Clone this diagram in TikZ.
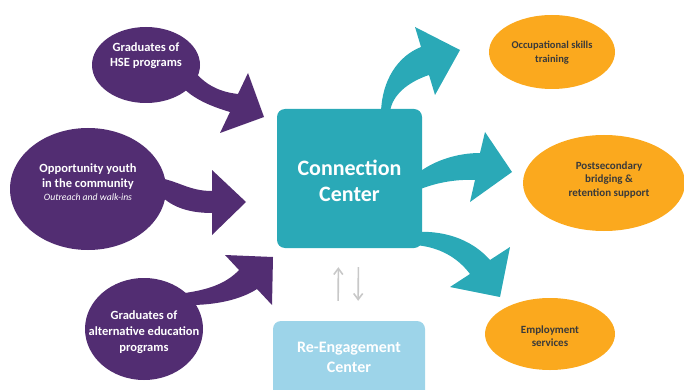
\documentclass[tikz,border=0pt]{standalone}
\usepackage{fontspec}
\setmainfont{Carlito}
\usepackage{xcolor}
\usetikzlibrary{positioning, shapes.geometric, arrows.meta, calc}

\definecolor{ccpurple}{HTML}{522D72}
\definecolor{ccteal}{HTML}{2AA9B7}
\definecolor{cclight}{HTML}{9DD4E9}
\definecolor{ccorange}{HTML}{FBA91E}
\definecolor{ccdark}{HTML}{3A3A3A}
\definecolor{ccgray}{HTML}{C8C8C8}

\begin{document}
\begin{tikzpicture}[x=1pt, y=-1pt,
    youth/.style={ellipse, fill=ccpurple, inner sep=0pt},
    youthtxt/.style={text=white, align=center, font=\bfseries\fontsize{12.5}{15}\selectfont},
    service/.style={ellipse, fill=ccorange, inner sep=0pt},
    servicetxt/.style={text=ccdark, align=center, font=\bfseries\fontsize{10.5}{14}\selectfont},
    hubbox/.style={rounded corners=8pt, inner sep=0pt},
    inarrow/.style={fill=ccpurple},
    outarrow/.style={fill=ccteal},
    updown/.style={ccgray, line width=1.6pt, -{Straight Barb[length=6pt, width=9pt]}}]
    \useasboundingbox (0,0) rectangle (684,390);

    % youth sources
    \node[youth, minimum width=108pt, minimum height=76pt] (hse) at (146,65) {};
    \node[youth, minimum width=156pt, minimum height=122pt] (opp) at (88,189) {};
    \node[youth, minimum width=118pt, minimum height=102pt] (alt) at (144,329) {};
    \node[youthtxt] at ($(hse)+(0,-9)$) {Graduates of\\HSE programs};
    \node[youthtxt] at ($(opp)+(0,-7)$) {Opportunity youth\\in the community\\[-2pt]
        {\mdseries\itshape\fontsize{9.7}{11}\selectfont Outreach and walk-ins}};
    \node[youthtxt, font=\bfseries\fontsize{12.5}{16}\selectfont] at ($(alt)+(0,3)$) {Graduates of\\alternative education\\programs};

    % centers
    \node[hubbox, fill=ccteal, minimum width=145pt, minimum height=139pt] (cc) at (349.5,178.5) {};
    \node[text=white, align=center, font=\bfseries\fontsize{22}{26}\selectfont] at ($(cc)+(0,2)$) {Connection\\Center};
    \node[hubbox, fill=cclight, minimum width=152pt, minimum height=78pt] (re) at (349,360) {};
    \node[text=white, align=center, font=\bfseries\fontsize{16}{20}\selectfont] at (349,357) {Re-Engagement\\Center};

    % services
    \node[service, minimum width=126pt, minimum height=74pt] (occ) at (552,52) {};
    \node[service, minimum width=162pt, minimum height=96pt] (post) at (604,183) {};
    \node[service, minimum width=130pt, minimum height=72pt] (emp) at (550,334) {};
    \node[servicetxt] at ($(occ)+(0,1)$) {Occupational skills\\training};
    \node[servicetxt, font=\bfseries\fontsize{11}{13.5}\selectfont] at ($(post)+(5,-3)$) {Postsecondary\\bridging \&\\retention support};
    \node[servicetxt, font=\bfseries\fontsize{11}{13}\selectfont] at ($(emp)+(0,2)$) {Employment\\services};

    % arrows into the connection center
    \fill[inarrow] (192,68) .. controls (204,85) and (220,92) .. (238,94) -- (248,73) -- (264,117)
        -- (220,133) -- (230,112) .. controls (210,106) and (190,98) .. (178,82) -- cycle;
    \fill[inarrow] (160,178) .. controls (180,182) and (190,191) .. (212,191) -- (212,170) -- (246,202)
        -- (212,235) -- (212,213) .. controls (185,213) and (170,205) .. (160,195) -- cycle;
    \fill[inarrow] (185,293) .. controls (205,290) and (225,285) .. (239,270) -- (225,255) -- (273,257)
        -- (272,305) -- (257,289) .. controls (240,300) and (215,305) .. (190,305) -- cycle;

    % arrows out to the services
    \fill[outarrow] (381,112) .. controls (382,80) and (398,56) .. (421,47) -- (415,27) -- (460,50)
        -- (435,95) -- (429,75) .. controls (408,82) and (392,95) .. (390,112) -- cycle;
    \fill[outarrow] (418,173) .. controls (435,160) and (458,153) .. (480,153) -- (485,132) -- (512,172)
        -- (470,202) -- (475,180) .. controls (455,179) and (435,183) .. (418,190) -- cycle;
    \fill[outarrow] (415,232) .. controls (450,230) and (475,243) .. (490,260) -- (510,247) -- (500,297)
        -- (450,287) -- (470,274) .. controls (458,258) and (440,247) .. (415,245) -- cycle;

    % link between the two centers
    \draw[updown, shorten <=20pt, shorten >=19pt] ([xshift=-11pt]re.north) -- ([xshift=-11pt]cc.south);
    \draw[updown, shorten <=19pt, shorten >=20pt] ([xshift=9pt]cc.south) -- ([xshift=9pt]re.north);
\end{tikzpicture}
\end{document}
